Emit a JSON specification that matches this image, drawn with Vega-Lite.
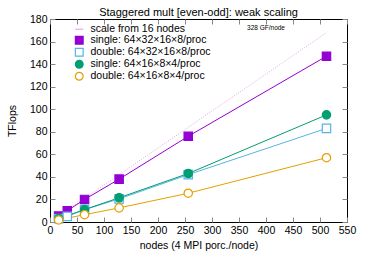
{
  "$schema": "https://vega.github.io/schema/vega-lite/v6.json",
  "autosize": "none",
  "width": 297,
  "height": 203,
  "padding": {"left": 50, "top": 19, "right": 19, "bottom": 33},
  "title": {"text": "Staggered mult [even-odd]: weak scaling", "fontSize": 11, "fontWeight": "normal", "font": "Liberation Sans", "offset": -4},
  "config": {
    "font": "Liberation Sans",
    "view": {"stroke": "#000", "strokeWidth": 1},
    "axis": {"grid": false, "domain": false, "tickColor": "#888", "tickSize": -5, "labelFontSize": 10.5, "labelColor": "#000", "titleFontSize": 10.5, "titleFontWeight": "normal", "labelPadding": 8, "titleColor": "#000", "labelFlush": false, "labelOverlap": false},
    "legend": {"orient": "none", "legendX": 24, "legendY": 5, "title": null, "labelFontSize": 10.5, "rowPadding": -3, "symbolSize": 60, "symbolStrokeWidth": 1.2, "padding": 0, "labelOffset": 6}
  },
  "datasets": {
    "pts": [
      {"series": "scale from 16 nodes", "nodes": 16, "tf": 5.25},
      {"series": "scale from 16 nodes", "nodes": 512, "tf": 167.9},
      {"series": "single: 64×32×16×8/proc", "nodes": 16, "tf": 5.2},
      {"series": "single: 64×32×16×8/proc", "nodes": 32, "tf": 10},
      {"series": "single: 64×32×16×8/proc", "nodes": 64, "tf": 20},
      {"series": "single: 64×32×16×8/proc", "nodes": 128, "tf": 38},
      {"series": "single: 64×32×16×8/proc", "nodes": 256, "tf": 76},
      {"series": "single: 64×32×16×8/proc", "nodes": 512, "tf": 147},
      {"series": "double: 64×32×16×8/proc", "nodes": 16, "tf": 3},
      {"series": "double: 64×32×16×8/proc", "nodes": 32, "tf": 5},
      {"series": "double: 64×32×16×8/proc", "nodes": 64, "tf": 11},
      {"series": "double: 64×32×16×8/proc", "nodes": 128, "tf": 20.5},
      {"series": "double: 64×32×16×8/proc", "nodes": 256, "tf": 42},
      {"series": "double: 64×32×16×8/proc", "nodes": 512, "tf": 83},
      {"series": "single: 64×16×8×4/proc", "nodes": 16, "tf": 3},
      {"series": "single: 64×16×8×4/proc", "nodes": 64, "tf": 11},
      {"series": "single: 64×16×8×4/proc", "nodes": 128, "tf": 21.5},
      {"series": "single: 64×16×8×4/proc", "nodes": 256, "tf": 43},
      {"series": "single: 64×16×8×4/proc", "nodes": 512, "tf": 95},
      {"series": "double: 64×16×8×4/proc", "nodes": 16, "tf": 1.8},
      {"series": "double: 64×16×8×4/proc", "nodes": 64, "tf": 6.5},
      {"series": "double: 64×16×8×4/proc", "nodes": 128, "tf": 12.5},
      {"series": "double: 64×16×8×4/proc", "nodes": 256, "tf": 25.5},
      {"series": "double: 64×16×8×4/proc", "nodes": 512, "tf": 57}
    ],
    "notes": [{"nodes": 400, "tf": 172, "label": "328 GF/node"}]
  },
  "resolve": {"axis": {"x": "independent", "y": "independent"}},
  "layer": [
    {
      "data": {"name": "pts"},
      "transform": [{"filter": "datum.series === 'scale from 16 nodes'"}],
      "mark": {"type": "line", "strokeDash": [1, 1.5], "strokeWidth": 1},
      "encoding": {
        "x": {"field": "nodes", "type": "quantitative", "scale": {"domain": [0, 550], "nice": false}, "axis": {"orient": "top", "labels": false, "values": [0,50,100,150,200,250,300,350,400,450,500,550], "title": null}},
        "y": {"field": "tf", "type": "quantitative", "scale": {"domain": [0, 180], "nice": false}, "axis": {"orient": "right", "labels": false, "values": [0,20,40,60,80,100,120,140,160,180], "title": null}},
        "stroke": {"field": "series", "type": "nominal", "sort": null, "scale": {"domain": ["scale from 16 nodes", "single: 64×32×16×8/proc", "double: 64×32×16×8/proc", "single: 64×16×8×4/proc", "double: 64×16×8×4/proc"], "range": ["#e4a8ec", "#9400d3", "#56b4e9", "#009e73", "#e69f00"]}}
      }
    },
    {
      "data": {"name": "pts"},
      "transform": [{"filter": "datum.series !== 'scale from 16 nodes'"}],
      "mark": {"type": "line", "strokeWidth": 1},
      "encoding": {
        "x": {"field": "nodes", "type": "quantitative", "axis": {"orient": "bottom", "values": [0,50,100,150,200,250,300,350,400,450,500,550], "title": "nodes (4 MPI porc./node)", "titlePadding": 5}},
        "y": {"field": "tf", "type": "quantitative", "axis": {"orient": "left", "values": [0,20,40,60,80,100,120,140,160,180], "title": "TFlops", "titlePadding": 12}},
        "stroke": {"field": "series", "type": "nominal"}
      }
    },
    {
      "data": {"name": "pts"},
      "transform": [{"filter": "datum.series !== 'scale from 16 nodes'"}],
      "mark": {"type": "point", "size": 70, "strokeWidth": 1.2, "opacity": 1},
      "encoding": {
        "x": {"field": "nodes", "type": "quantitative", "axis": null},
        "y": {"field": "tf", "type": "quantitative", "axis": null},
        "stroke": {"field": "series", "type": "nominal"},
        "fill": {"field": "series", "type": "nominal", "scale": {"domain": ["scale from 16 nodes", "single: 64×32×16×8/proc", "double: 64×32×16×8/proc", "single: 64×16×8×4/proc", "double: 64×16×8×4/proc"], "range": ["transparent", "#9400d3", "white", "#009e73", "white"]}},
        "shape": {"field": "series", "type": "nominal", "scale": {"domain": ["scale from 16 nodes", "single: 64×32×16×8/proc", "double: 64×32×16×8/proc", "single: 64×16×8×4/proc", "double: 64×16×8×4/proc"], "range": ["stroke", "square", "square", "circle", "circle"]}}
      }
    },
    {
      "data": {"name": "notes"},
      "mark": {"type": "text", "fontSize": 6.5, "align": "center"},
      "encoding": {
        "x": {"field": "nodes", "type": "quantitative", "axis": null},
        "y": {"field": "tf", "type": "quantitative", "axis": null},
        "text": {"field": "label"}
      }
    }
  ]
}
